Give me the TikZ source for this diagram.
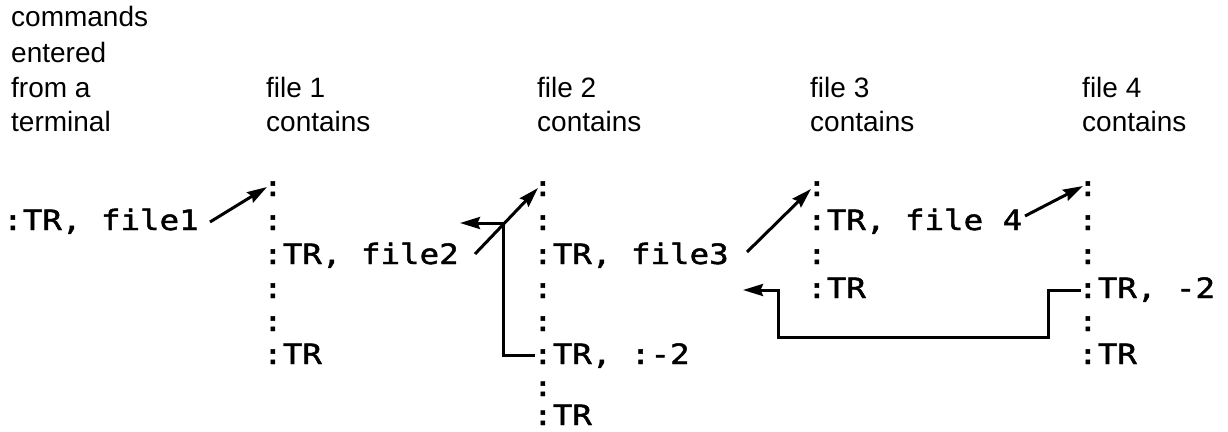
\documentclass[tikz,border=0pt]{standalone}
\usepackage{fontspec}
\setmainfont{Liberation Sans}
\newfontfamily\monofont[FakeStretch=1.16,FakeBold=1.6]{DejaVu Sans Mono}
\usetikzlibrary{arrows.meta}
\begin{document}
\begin{tikzpicture}[x=1pt,y=-1pt,
  hdr/.style={anchor=base west, inner sep=0pt, font=\fontsize{28}{34}\selectfont},
  cmd/.style={anchor=base west, inner sep=0pt, font=\monofont\fontsize{28}{33}\selectfont},
  arr/.style={line width=3pt, -{Stealth[length=20pt,width=12pt,inset=2.5pt]}},
  lnk/.style={line width=3pt}]
\useasboundingbox (0,0) rectangle (1228,431);
% headers
\node[hdr] (h0a) at (11,27) {commands};
\node[hdr] (h0b) at (11,62) {entered};
\node[hdr] (h0c) at (11,97) {from a};
\node[hdr] (h0d) at (11,131) {terminal};
\node[hdr] (h1a) at (266,97) {file 1};
\node[hdr] (h1b) at (266,131) {contains};
\node[hdr] (h2a) at (537,97) {file 2};
\node[hdr] (h2b) at (537,131) {contains};
\node[hdr] (h3a) at (810,97) {file 3};
\node[hdr] (h3b) at (810,131) {contains};
\node[hdr] (h4a) at (1082,97) {file 4};
\node[hdr] (h4b) at (1082,131) {contains};
% terminal
\node[cmd] (t0) at (3,230) {:TR, file1};
% file 1
\node[cmd] (c1a) at (263,196) {:};
\node[cmd] (c1b) at (263,230) {:};
\node[cmd] (c1c) at (263,264) {:TR, file2};
\node[cmd] (c1d) at (263,298) {:};
\node[cmd] (c1e) at (263,331) {:};
\node[cmd] (c1f) at (263,364) {:TR};
% file 2
\node[cmd] (c2a) at (533,196) {:};
\node[cmd] (c2b) at (533,230) {:};
\node[cmd] (c2c) at (533,264) {:TR, file3};
\node[cmd] (c2d) at (533,298) {:};
\node[cmd] (c2e) at (533,331) {:};
\node[cmd] (c2f) at (533,364) {:TR, :-2};
\node[cmd] (c2g) at (533,396) {:};
\node[cmd] (c2h) at (533,425) {:TR};
% file 3
\node[cmd] (c3a) at (807,196) {:};
\node[cmd] (c3b) at (807,230) {:TR, file 4};
\node[cmd] (c3c) at (807,264) {:};
\node[cmd] (c3d) at (807,298) {:TR};
% file 4
\node[cmd] (c4a) at (1078,196) {:};
\node[cmd] (c4b) at (1078,230) {:};
\node[cmd] (c4c) at (1078,264) {:};
\node[cmd] (c4d) at (1078,298) {:TR, -2};
\node[cmd] (c4e) at (1078,331) {:};
\node[cmd] (c4f) at (1078,364) {:TR};
% connector points
\coordinate (p1s) at (210,222);
\coordinate (p1e) at (267,187);
\coordinate (p2s) at (475,254);
\coordinate (p2e) at (538,188);
\coordinate (j2) at (503,223);
\coordinate (j2b) at (503,355);
\coordinate (q2) at (535,355);
\coordinate (p2l) at (460,223);
\coordinate (p3s) at (747,252);
\coordinate (p3e) at (811,189);
\coordinate (p4s) at (1025,216);
\coordinate (p4e) at (1083,186);
\coordinate (q4) at (1081,290);
\coordinate (r1) at (1048,290);
\coordinate (r2) at (1048,337);
\coordinate (r3) at (778,337);
\coordinate (r4) at (778,290);
\coordinate (p5e) at (743,290);
% connectors
\draw[arr] (p1s) -- (p1e);
\draw[arr] (p2s) -- (p2e);
\draw[arr] (q2) -- (j2b) -- (j2) -- (p2l);
\draw[arr] (p3s) -- (p3e);
\draw[arr] (p4s) -- (p4e);
\draw[arr] (q4) -- (r1) -- (r2) -- (r3) -- (r4) -- (p5e);
\end{tikzpicture}
\end{document}
